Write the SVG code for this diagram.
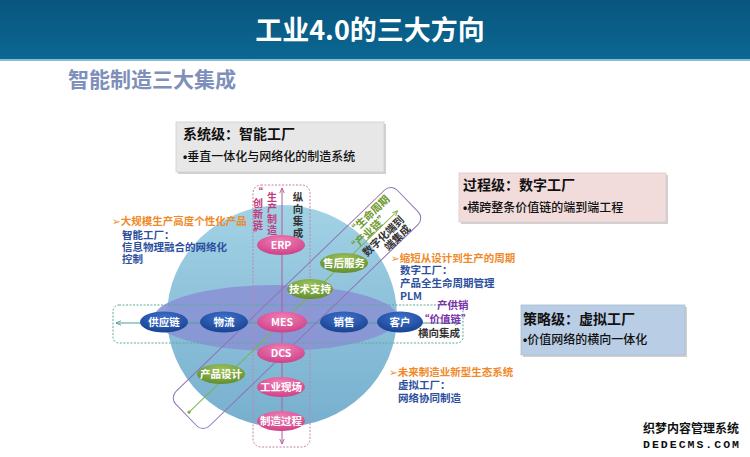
<svg xmlns="http://www.w3.org/2000/svg" width="750" height="457" viewBox="0 0 750 457">
<defs>
<linearGradient id="hdr" x1="0" y1="0" x2="0" y2="1"><stop offset="0" stop-color="#08557e"/><stop offset="1" stop-color="#0b6893"/></linearGradient>
<linearGradient id="ball" x1="0" y1="0" x2="0" y2="1"><stop offset="0" stop-color="#a2d2e5"/><stop offset="1" stop-color="#76afce"/></linearGradient>
<radialGradient id="gBlue" cx="0.5" cy="0.3" r="0.75"><stop offset="0" stop-color="#3d72cc"/><stop offset="1" stop-color="#173f8e"/></radialGradient>
<radialGradient id="gPink" cx="0.5" cy="0.3" r="0.75"><stop offset="0" stop-color="#f07fb6"/><stop offset="1" stop-color="#cc3d84"/></radialGradient>
<radialGradient id="gGreen" cx="0.5" cy="0.3" r="0.75"><stop offset="0" stop-color="#9fc45c"/><stop offset="1" stop-color="#5d8a2a"/></radialGradient>
<marker id="aT" viewBox="0 0 10 10" refX="9" refY="5" markerWidth="6" markerHeight="6" orient="auto-start-reverse"><path d="M0,1 L9,5 L0,9" fill="none" stroke="#4a9e9b" stroke-width="1.5"/></marker>
<marker id="aP" viewBox="0 0 10 10" refX="9" refY="5" markerWidth="6" markerHeight="6" orient="auto-start-reverse"><path d="M0,1 L9,5 L0,9" fill="none" stroke="#b55a98" stroke-width="1.5"/></marker>
<marker id="aG" viewBox="0 0 10 10" refX="9" refY="5" markerWidth="6" markerHeight="6" orient="auto-start-reverse"><path d="M0,1 L9,5 L0,9" fill="none" stroke="#7fb24a" stroke-width="1.5"/></marker>
<marker id="dG" viewBox="0 0 10 10" refX="5" refY="5" markerWidth="4" markerHeight="4"><circle cx="5" cy="5" r="4" fill="#7fb24a"/></marker>
</defs>
<style>
text{font-family:'Noto Sans CJK SC','Noto Sans','DejaVu Sans',sans-serif}
.nl{fill:#fff;font-size:10.5px;font-weight:bold;text-anchor:middle}
.bt{font-size:14px;font-weight:bold;fill:#111}
.bb{font-size:12px;font-weight:500;fill:#111}
.bu{font-family:'Liberation Sans',sans-serif;font-weight:bold}
.or{font-size:10.5px;font-weight:bold;fill:#ef8a2a}
.bl{font-size:10.5px;font-weight:bold;fill:#2d4f9e}
.mg{font-size:10px;font-weight:bold;fill:#c23b7e;text-anchor:middle}
.dk{font-size:10.5px;font-weight:bold;fill:#333;text-anchor:middle}
.pu{font-size:10.5px;font-weight:bold;fill:#7a32a8}
.gr{font-size:10.5px;font-weight:bold;fill:#6f9a2d;text-anchor:middle}
.sh{fill:#9a9a9a;opacity:.45}
</style>

<rect x="0" y="0" width="750" height="59" fill="url(#hdr)"/>
<rect x="0" y="59" width="750" height="2" fill="#86bdd6"/>
<text x="370" y="40" font-size="27" font-weight="bold" fill="#fff" text-anchor="middle">工业4.0的三大方向</text>
<text x="68" y="87" font-size="21" font-weight="bold" fill="#7d8fba">智能制造三大集成</text>

<g id="box-system">
<rect class="sh" x="178" y="124" width="208" height="50"/>
<rect x="176" y="122" width="208" height="50" fill="#e7e7e7" stroke="#cfcfcf" stroke-width="0.8"/>
<text x="183"><tspan class="bt" x="183" y="139.3">系统级：智能工厂</tspan><tspan class="bb" x="183" y="160.6"><tspan class="bu">•</tspan>垂直一体化与网络化的制造系统</tspan></text>
</g>
<g id="box-process">
<rect class="sh" x="461" y="175" width="207" height="49"/>
<rect x="459" y="173" width="207" height="49" fill="#f2dcdb" stroke="#dccaca" stroke-width="0.8"/>
<text x="463"><tspan class="bt" x="463" y="190.3">过程级：数字工厂</tspan><tspan class="bb" x="463" y="211.6"><tspan class="bu">•</tspan>横跨整条价值链的端到端工程</tspan></text>
</g>
<g id="box-strategy">
<rect class="sh" x="523" y="307" width="164" height="50"/>
<rect x="521" y="305" width="164" height="50" fill="#b9cde5" stroke="#a9bdd5" stroke-width="0.8"/>
<text x="523"><tspan class="bt" x="523" y="324.3">策略级：虚拟工厂</tspan><tspan class="bb" x="523" y="343.6"><tspan class="bu">•</tspan>价值网络的横向一体化</tspan></text>
</g>

<g id="sphere">
<ellipse cx="282" cy="316" rx="115" ry="111" fill="url(#ball)"/>
<ellipse cx="276" cy="318" rx="122" ry="33" fill="#8a93d4" opacity="0.9"/>
</g>

<g id="connectors" fill="none">
<rect x="113" y="305" width="350" height="38" rx="6" stroke="#5aa99b" stroke-width="1" stroke-dasharray="2 1.5"/>
<line x1="116" y1="323" x2="460" y2="323" stroke="#4a9e9b" stroke-width="1" marker-start="url(#aT)" marker-end="url(#aT)"/>
<rect x="253" y="185" width="57" height="262" rx="8" stroke="#c77fae" stroke-width="1" stroke-dasharray="2 1.5"/>
<line x1="282" y1="188" x2="282" y2="444" stroke="#b55a98" stroke-width="1" marker-start="url(#aP)" marker-end="url(#aP)"/>
<g transform="translate(297 308) rotate(-44)">
<rect x="-154" y="-24" width="308" height="48" rx="9" stroke="#8c74b8" stroke-width="1"/>
<line x1="-150" y1="0" x2="140" y2="0" stroke="#7fb24a" stroke-width="1" marker-start="url(#dG)" marker-end="url(#aG)"/>
</g>
</g>

<g id="label-vertical">
<text class="mg" x="258"><tspan x="258" y="196">“</tspan><tspan x="258" y="207">创</tspan><tspan x="258" y="218">新</tspan><tspan x="258" y="229">链</tspan><tspan x="258" y="238">”</tspan></text>
<text class="mg" x="272"><tspan x="272" y="201">生</tspan><tspan x="272" y="212">产</tspan><tspan x="272" y="223">制</tspan><tspan x="272" y="234">造</tspan></text>
<text class="dk" x="298"><tspan x="298" y="201">纵</tspan><tspan x="298" y="213">向</tspan><tspan x="298" y="225">集</tspan><tspan x="298" y="237">成</tspan></text>
</g>

<g id="label-diagonal" transform="translate(297 308) rotate(-44)">
<text x="116"><tspan class="gr" x="116" y="-13">“生命周期</tspan><tspan class="gr" x="104" y="-1">“产业链”</tspan><tspan class="dk" x="112" y="12">数字化端到</tspan><tspan class="dk" x="121" y="23">端集成</tspan></text>
</g>

<g id="label-horizontal">
<text x="437"><tspan class="pu" x="437" y="309">产供销</tspan><tspan class="pu" x="419" y="323">“价值链”</tspan><tspan class="dk" x="439" y="337">横向集成</tspan></text>
</g>

<g id="node-erp"><ellipse cx="281" cy="245" rx="24" ry="10" fill="url(#gPink)"/><text class="nl" x="281" y="249">ERP</text></g>
<g id="node-shouhou"><ellipse cx="344" cy="263" rx="24" ry="10" fill="url(#gGreen)"/><text class="nl" x="344" y="267">售后服务</text></g>
<g id="node-jishu"><ellipse cx="310" cy="289" rx="23" ry="10" fill="url(#gGreen)"/><text class="nl" x="310" y="293">技术支持</text></g>
<g id="node-gongying"><ellipse cx="164" cy="322" rx="24" ry="10.5" fill="url(#gBlue)"/><text class="nl" x="164" y="326">供应链</text></g>
<g id="node-wuliu"><ellipse cx="224" cy="322" rx="24" ry="10.5" fill="url(#gBlue)"/><text class="nl" x="224" y="326">物流</text></g>
<g id="node-mes"><ellipse cx="282" cy="322" rx="25" ry="10.5" fill="url(#gPink)"/><text class="nl" x="282" y="326">MES</text></g>
<g id="node-xiaoshou"><ellipse cx="344" cy="322" rx="24" ry="10.5" fill="url(#gBlue)"/><text class="nl" x="344" y="326">销售</text></g>
<g id="node-kehu"><ellipse cx="400" cy="322" rx="23" ry="10.5" fill="url(#gBlue)"/><text class="nl" x="400" y="326">客户</text></g>
<g id="node-dcs"><ellipse cx="281" cy="353" rx="24" ry="10" fill="url(#gPink)"/><text class="nl" x="281" y="357">DCS</text></g>
<g id="node-chanpin"><ellipse cx="221" cy="374" rx="24" ry="10" fill="url(#gGreen)"/><text class="nl" x="221" y="378">产品设计</text></g>
<g id="node-gongye"><ellipse cx="281" cy="387" rx="24" ry="10" fill="url(#gPink)"/><text class="nl" x="281" y="391">工业现场</text></g>
<g id="node-zhizao"><ellipse cx="281" cy="421" rx="24" ry="10" fill="url(#gPink)"/><text class="nl" x="281" y="425">制造过程</text></g>

<g id="note-left">
<text x="112"><tspan class="or" x="112" y="225">➢大规模生产高度个性化产品</tspan><tspan class="bl" x="122" y="239">智能工厂：</tspan><tspan class="bl" x="122" y="251">信息物理融合的网络化</tspan><tspan class="bl" x="122" y="263">控制</tspan></text>
</g>
<g id="note-right">
<text x="391"><tspan class="or" x="391" y="262">➢缩短从设计到生产的周期</tspan><tspan class="bl" x="400" y="274">数字工厂：</tspan><tspan class="bl" x="400" y="287">产品全生命周期管理</tspan><tspan class="bl" x="400" y="300">PLM</tspan></text>
</g>
<g id="note-bottom">
<text x="389"><tspan class="or" x="389" y="376">➢未来制造业新型生态系统</tspan><tspan class="bl" x="398" y="389">虚拟工厂：</tspan><tspan class="bl" x="398" y="402">网络协同制造</tspan></text>
</g>

<g id="watermark">
<text x="643"><tspan x="643" y="433" font-size="12" font-weight="bold" fill="#111" textLength="96">织梦内容管理系统</tspan><tspan x="643" y="448" font-family="'Liberation Mono',monospace" font-size="11.5" font-weight="bold" fill="#111" textLength="96">DEDECMS.COM</tspan></text>
</g>
</svg>
